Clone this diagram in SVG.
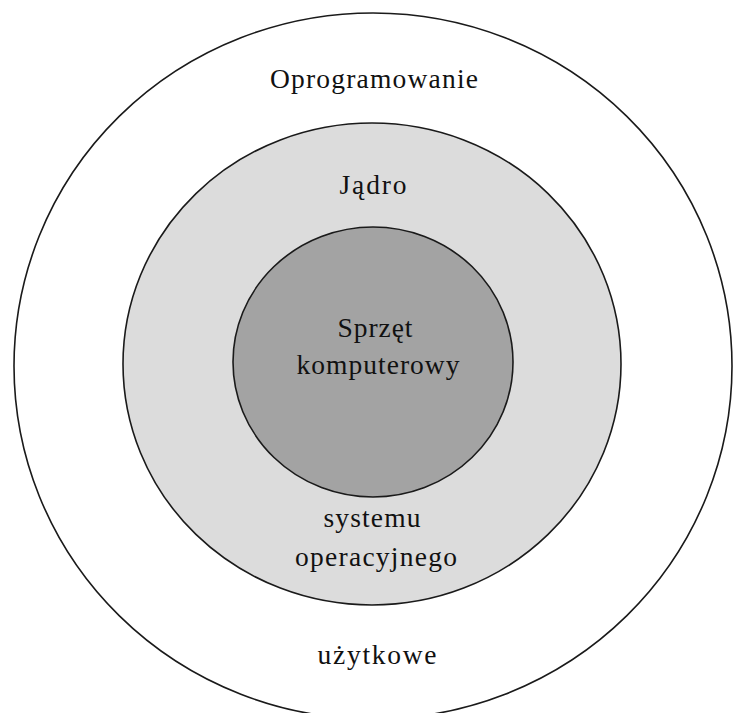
<svg xmlns="http://www.w3.org/2000/svg" width="735" height="713" viewBox="0 0 735 713">
  <style>
    .ring { stroke: #1a1a1a; stroke-width: 1.6; }
    .label { font-family: "Liberation Serif", "Times New Roman", serif; font-size: 27.5px; fill: #111; text-anchor: middle; }
  </style>
  <rect width="735" height="713" fill="#ffffff"/>

  <!-- outer layer: application software -->
  <g id="software">
    <ellipse class="ring" cx="373" cy="366" rx="359" ry="353" fill="#ffffff"/>
    <text class="label" x="374" y="88" textLength="208" lengthAdjust="spacing">Oprogramowanie</text>
    <text class="label" x="377" y="664" textLength="119" lengthAdjust="spacing">użytkowe</text>
  </g>

  <!-- middle layer: operating system kernel -->
  <g id="kernel">
    <ellipse class="ring" cx="372" cy="364" rx="249" ry="241" fill="#dcdcdc"/>
    <text class="label" x="373" y="194" textLength="67" lengthAdjust="spacing">Jądro</text>
    <text class="label" x="372" y="527" textLength="97" lengthAdjust="spacing">systemu</text>
    <text class="label" x="376" y="566" textLength="162" lengthAdjust="spacing">operacyjnego</text>
  </g>

  <!-- core: hardware -->
  <g id="hardware">
    <ellipse class="ring" cx="373" cy="362" rx="140" ry="135" fill="#a3a3a3"/>
    <text class="label" x="375" y="337" textLength="75" lengthAdjust="spacing">Sprzęt</text>
    <text class="label" x="378" y="374" textLength="163" lengthAdjust="spacing">komputerowy</text>
  </g>

  <g id="connectors"/>
</svg>
